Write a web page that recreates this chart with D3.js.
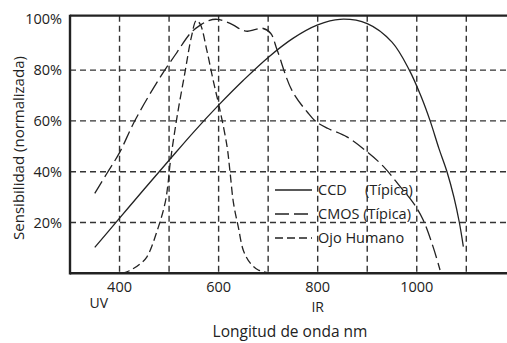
<!DOCTYPE html>
<html>
<head>
<meta charset="utf-8">
<script src="https://cdn.jsdelivr.net/npm/d3@7"></script>
<style>
  body { margin: 0; background: #fff; }
  text { font-family: "Open Sans", sans-serif; fill: #222; }
</style>
</head>
<body>
<div id="chart"></div>
<script>
// wavelength ticks (nm) and sensitivity ticks (%)
const xTicks = [400, 500, 600, 700, 800, 900, 1000, 1100];
const xLabels = [400, 600, 800, 1000];
const yTicks = [20, 40, 60, 80, 100];

// [nm, %]
const ccd = [[350,10.2],[400,21.7],[450,33.2],[500,44.5],[550,55.7],[600,66.2],[650,76],[700,85],[750,92.5],[800,97.8],[845,100],[900,98.3],[950,91],[985,80],[1010,69],[1027,60],[1045,49],[1061,40],[1075,30],[1086,20],[1094,10.5]];
const cmos = [[350,31.5],[375,39.5],[400,47.5],[428,59],[458,69.5],[488,79],[516,87],[543,94.5],[563,97.7],[580,99.5],[597,100],[615,99],[630,97.7],[645,96],[658,95.3],[675,96],[688,96.5],[705,94.5],[718,88],[748,72],[781,63],[798,59.5],[821,57],[859,53.7],[900,47.8],[933,42],[967,34],[993,27.7],[1013,21],[1033,10.4],[1047,1.3]];
const eye = [[405,0],[420,1],[440,3.5],[455,6.4],[478,18],[492,27.7],[498,35.5],[502,43],[516,61.5],[532,79],[545,93],[555,99.5],[563,98],[576,88],[589,76],[603,64],[617,50],[623,40],[630,27.7],[640,18],[650,9],[664,4],[680,1.3],[700,0.3]];

const series = [
  { name: "CCD\u2003 (Típica)", data: ccd, dash: null },
  { name: "CMOS (Típica)", data: cmos, dash: "14,5" },
  { name: "Ojo Humano", data: eye, dash: "8,4" }
];

const width = 507, height = 343;
const svg = d3.select("#chart").append("svg")
  .attr("width", width).attr("height", height);

const x = d3.scaleLinear().domain([300, 1100]).range([70, 466.3]);
const y = d3.scaleLinear().domain([0, 100]).range([273.3, 19.3]);
const frameTop = 15.7, frameRight = width;

// grid
svg.append("g").selectAll("line").data(xTicks).enter().append("line")
  .attr("x1", d => x(d)).attr("x2", d => x(d))
  .attr("y1", frameTop).attr("y2", y(0))
  .attr("stroke", "#333").attr("stroke-width", 1.4)
  .attr("stroke-dasharray", "6,4");

svg.append("g").selectAll("line").data(yTicks.filter(d => d < 100)).enter().append("line")
  .attr("x1", x(300)).attr("x2", frameRight)
  .attr("y1", d => y(d)).attr("y2", d => y(d))
  .attr("stroke", "#333").attr("stroke-width", 1.4)
  .attr("stroke-dasharray", "6,4");

// frame
svg.append("line").attr("x1", x(300)).attr("x2", frameRight).attr("y1", frameTop).attr("y2", frameTop)
  .attr("stroke", "#222").attr("stroke-width", 2.2);
svg.append("line").attr("x1", x(300)).attr("x2", frameRight).attr("y1", y(0)).attr("y2", y(0))
  .attr("stroke", "#222").attr("stroke-width", 2.4);
svg.append("line").attr("x1", x(300)).attr("x2", x(300)).attr("y1", frameTop - 1).attr("y2", y(0) + 1.2)
  .attr("stroke", "#222").attr("stroke-width", 2.4);

// curves
const line = d3.line()
  .x(d => x(d[0])).y(d => y(d[1]))
  .curve(d3.curveCatmullRom.alpha(0.5));

svg.append("g").selectAll("path").data(series).enter().append("path")
  .attr("d", d => line(d.data))
  .attr("fill", "none")
  .attr("stroke", "#222")
  .attr("stroke-width", 1.3)
  .attr("stroke-dasharray", d => d.dash);

// tick labels
svg.append("g").selectAll("text").data(xLabels).enter().append("text")
  .attr("x", d => x(d)).attr("y", 292)
  .attr("text-anchor", "middle").attr("font-size", 14.5)
  .text(d => d);

svg.append("g").selectAll("text").data(yTicks).enter().append("text")
  .attr("x", 62).attr("y", d => y(d) + 5)
  .attr("text-anchor", "end").attr("font-size", 14.5)
  .text(d => d + "%");

svg.append("text").attr("x", x(358)).attr("y", 308)
  .attr("text-anchor", "middle").attr("font-size", 14).text("UV");
svg.append("text").attr("x", x(800)).attr("y", 312)
  .attr("text-anchor", "middle").attr("font-size", 14).text("IR");

svg.append("text").attr("x", 290).attr("y", 337)
  .attr("text-anchor", "middle").attr("font-size", 15.5).text("Longitud de onda nm");

svg.append("text")
  .attr("transform", "translate(24,148) rotate(-90)")
  .attr("text-anchor", "middle").attr("font-size", 15)
  .text("Sensibilidad (normalizada)");

// legend
const legend = svg.append("g").attr("transform", "translate(275,190)");
const rows = legend.selectAll("g").data(series).enter().append("g")
  .attr("transform", (d, i) => `translate(0,${i * 24})`);
rows.append("line").attr("x1", 0).attr("x2", 37).attr("y1", 0).attr("y2", 0)
  .attr("stroke", "#222").attr("stroke-width", 1.3)
  .attr("stroke-dasharray", d => d.dash);
rows.append("text").attr("x", 43).attr("y", 5).attr("font-size", 14.5)
  .text(d => d.name);
</script>
</body>
</html>
